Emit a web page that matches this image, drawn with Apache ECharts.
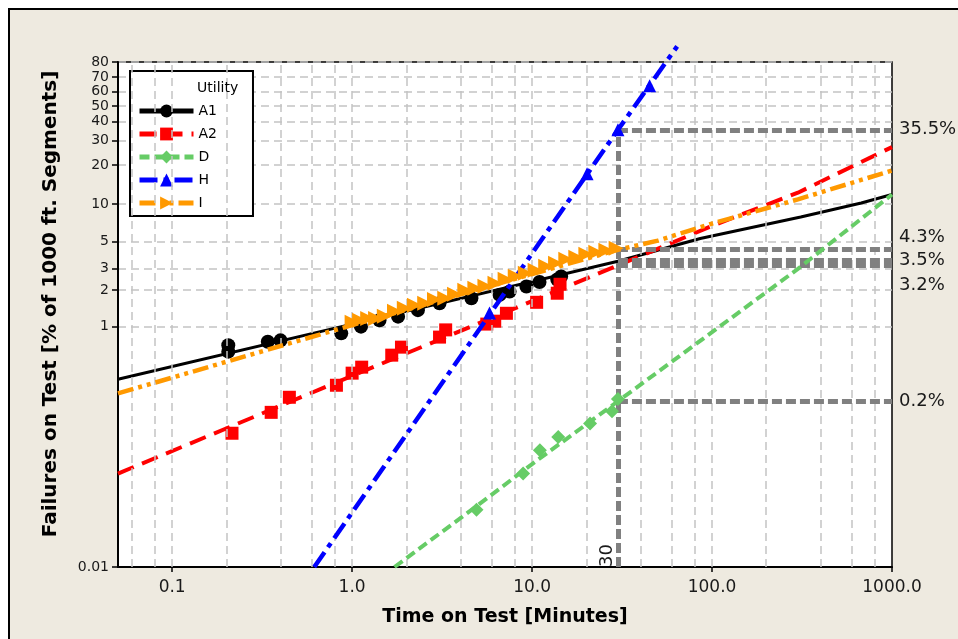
<!DOCTYPE html>
<html><head><meta charset="utf-8">
<script src="https://cdn.jsdelivr.net/npm/echarts@6/dist/echarts.min.js"></script>
<style>html,body{margin:0;padding:0;background:#fff}#c{width:958px;height:639px}</style>
</head><body><div id="c"></div>
<script>
// ---------- data ----------
const seriesNames = ['A1', 'A2', 'D', 'H', 'I'];
const xTickLabels = [0.1, 1, 10, 100, 1000];
const xGridValues = [0.06, 0.08, 0.1, 0.2, 0.4, 0.6, 0.8, 1, 2, 4, 6, 8, 10, 20, 40, 60, 80, 100, 200, 400, 600, 800];
const yTickPct = [0.01, 1, 2, 3, 5, 10, 20, 30, 40, 50, 60, 70, 80];

// fitted lines: [minutes, % failed]
const a1Line = [[0.05, 0.366], [1, 1.05], [30, 3.46], [86, 5.3], [311, 7.9], [675, 10.2], [1000, 11.9]];
const a2Line = [[0.05, 0.060], [1, 0.39], [30, 3.2], [100, 6.7], [300, 12.3], [1000, 27]];
const dLine = [[1.72, 0.01], [4.9, 0.032], [10, 0.072], [30, 0.24], [100, 0.9], [300, 3.0], [1000, 11.9]];
const hLine = [[0.616, 0.01], [30, 35.5], [64, 88.6]];
const iLine = [[0.05, 0.279], [1, 1.03], [30, 4.3], [50, 5.1], [100, 7.0], [300, 10.9], [1000, 18.2]];

// observed points: [minutes, % failed]
const a1Pts = [[0.205, 0.70], [0.205, 0.62], [0.34, 0.75], [0.40, 0.77], [0.87, 0.88], [1.12, 1.0], [1.42, 1.13], [1.80, 1.21], [2.32, 1.37], [3.06, 1.56], [4.6, 1.72], [6.6, 1.83], [7.5, 1.95], [9.3, 2.15], [11.0, 2.34], [13.8, 2.45], [14.5, 2.6]];
const a2Pts = [[0.215, 0.130], [0.355, 0.194], [0.448, 0.259], [0.818, 0.326], [1.0, 0.411], [1.13, 0.461], [1.66, 0.580], [1.88, 0.676], [3.06, 0.819], [3.31, 0.94], [5.6, 1.05], [6.2, 1.11], [7.2, 1.29], [10.6, 1.59], [13.8, 1.89], [14.3, 2.24]];
const dPts = [[4.91, 0.030], [8.92, 0.060], [11.05, 0.094], [13.98, 0.121], [21.0, 0.157], [27.8, 0.198], [30, 0.25]];
const hPts = [[5.8, 1.3], [20.2, 17.2], [30, 35.5], [45, 64]];
const iPts = [[1.00, 1.09], [1.10, 1.13], [1.22, 1.17], [1.35, 1.17], [1.51, 1.22], [1.72, 1.34], [1.95, 1.42], [2.22, 1.50], [2.53, 1.56], [2.87, 1.68], [3.27, 1.72], [3.71, 1.85], [4.23, 2.00], [4.81, 2.08], [5.47, 2.16], [6.22, 2.28], [7.08, 2.46], [8.06, 2.61], [9.17, 2.76], [10.4, 2.92], [11.9, 3.15], [13.5, 3.33], [15.4, 3.59], [17.5, 3.73], [19.9, 3.95], [22.6, 4.10], [25.7, 4.25], [29.3, 4.42]];

// reference read-offs at 30 minutes
const refMinutes = 30;
const refPct = [35.5, 4.3, 3.5, 3.2, 0.24];
const refLabels = ['35.5%', '4.3%', '3.5%', '3.2%', '0.2%'];

// ---------- Weibull probability scale ----------
const W = p => Math.log(-Math.log(1 - p / 100));
const tr = arr => arr.map(([t, p]) => [t, W(p)]);
const yTickW = yTickPct.map(W);
const yLabel = v => {
  for (let i = 0; i < yTickW.length; i++) if (Math.abs(yTickW[i] - v) < 1e-6) return String(yTickPct[i]);
  return '';
};

const FONT = 'DejaVu Sans';
const styles = {
  A1: { color: '#000000', width: 3, type: 'solid', symbol: 'circle', size: 14, rotate: 0 },
  A2: { color: '#ff0000', width: 4, type: [17, 9], symbol: 'rect', size: 13, rotate: 0 },
  D: { color: '#66cc66', width: 4, type: [10, 5], symbol: 'diamond', size: 14, rotate: 0 },
  H: { color: '#0000ff', width: 4.5, type: [18, 6, 5, 6], symbol: 'triangle', size: 13, rotate: 0 },
  I: { color: '#ff9900', width: 4.5, type: [16, 5, 4, 5, 4, 5], symbol: 'triangle', size: 15, rotate: -90 }
};
const lines = { A1: a1Line, A2: a2Line, D: dLine, H: hLine, I: iLine };
const pts = { A1: a1Pts, A2: a2Pts, D: dPts, H: hPts, I: iPts };

const series = [];
// vertical grid lines
series.push({
  type: 'scatter', data: [], silent: true, z: 1,
  markLine: {
    silent: true, animation: false, symbol: ['none', 'none'], label: { show: false },
    lineStyle: { color: '#c4c4c4', width: 1.5, type: [8, 5] },
    data: xGridValues.map(v => ({ xAxis: v }))
  }
});
// reference lines
const labelOffsets = [0, -12, 0, 20, 0];
const refData = refPct.map((p, i) => [
  { coord: [refMinutes, W(p)], label: { show: true, position: 'end', formatter: refLabels[i], offset: [0, labelOffsets[i]] } },
  { coord: [1000, W(p)] }
]);
refData.push([
  { coord: [refMinutes, W(yTickPct[0])], label: { show: true, position: 'insideStartTop', formatter: String(refMinutes), distance: [0, 2] } },
  { coord: [refMinutes, W(refPct[0])] }
]);
series.push({
  type: 'scatter', data: [], silent: true, z: 2, clip: false,
  markLine: {
    silent: true, animation: false, symbol: ['none', 'none'],
    lineStyle: { color: '#808080', width: 5, type: [10, 4] },
    label: { distance: 7, fontFamily: FONT, fontSize: 18, color: '#1a1a1a' },
    data: refData
  }
});
seriesNames.forEach((n, k) => {
  const s = styles[n];
  series.push({
    type: 'line', name: n, data: tr(lines[n]), showSymbol: false,
    symbol: s.symbol, symbolRotate: s.rotate, symbolSize: s.size,
    lineStyle: { color: s.color, width: s.width, type: s.type },
    itemStyle: { color: s.color }, z: 3 + k, clip: n !== 'H', animation: false
  });
  series.push({
    type: 'scatter', name: n, data: tr(pts[n]),
    symbol: s.symbol, symbolRotate: s.rotate, symbolSize: s.size,
    itemStyle: { color: s.color, opacity: 1 }, z: 3 + k, clip: false, animation: false
  });
});

const chart = echarts.init(document.getElementById('c'), null, { renderer: 'canvas' });
chart.setOption({
  backgroundColor: '#ffffff',
  animation: false,
  grid: { left: 118, right: 66, top: 62, bottom: 72, show: true, backgroundColor: '#ffffff', borderColor: '#000', borderWidth: 1.5, containLabel: false },
  graphic: [
    { type: 'rect', z: -100, shape: { x: 9, y: 9, width: 960, height: 650 }, style: { fill: '#eeeae0', stroke: '#000', lineWidth: 2 } },
    { type: 'text', z: 100, x: 197, y: 88, style: { text: 'Utility', font: '14px "DejaVu Sans"', fill: '#000', verticalAlign: 'middle' } },
    { type: 'text', z: 100, x: 51, y: 304, rotation: Math.PI / 2, style: { text: 'Failures on Test [% of 1000 ft. Segments]', font: 'bold 20px "DejaVu Sans"', fill: '#000', align: 'center', verticalAlign: 'middle' } }
  ],
  legend: {
    orient: 'vertical', left: 130, top: 71,
    padding: [33, 36, 6, 7], itemWidth: 54, itemHeight: 16, itemGap: 9,
    backgroundColor: '#ffffff', borderColor: '#000', borderWidth: 2, borderRadius: 0,
    textStyle: { fontFamily: FONT, fontSize: 14, color: '#000' },
    lineStyle: { width: 5 },
    data: seriesNames, selectedMode: false
  },
  xAxis: {
    type: 'log', logBase: 10, min: 0.05, max: 1000,
    axisLine: { show: true, onZero: false, lineStyle: { color: '#000', width: 2 } },
    axisTick: { show: true, customValues: xTickLabels, length: 5, lineStyle: { color: '#000', width: 1.5 } },
    axisLabel: { customValues: xTickLabels, formatter: v => Number(v).toFixed(1), fontFamily: FONT, fontSize: 17, color: '#1a1a1a', margin: 12 },
    splitLine: { show: false }, minorSplitLine: { show: false },
    name: 'Time on Test [Minutes]', nameLocation: 'middle', nameGap: 41,
    nameTextStyle: { fontFamily: FONT, fontWeight: 'bold', fontSize: 19, color: '#000' }
  },
  yAxis: {
    type: 'value', min: W(yTickPct[0]), max: W(yTickPct[yTickPct.length - 1]),
    axisLine: { show: true, onZero: false, lineStyle: { color: '#000', width: 2 } },
    axisTick: { show: true, customValues: yTickW, length: 6, lineStyle: { color: '#000', width: 1.5 } },
    axisLabel: { customValues: yTickW, formatter: yLabel, fontFamily: FONT, fontSize: 14, color: '#1a1a1a', margin: 9 },
    splitLine: { show: true, lineStyle: { color: '#c4c4c4', width: 1.5, type: [8, 5] } }
  },
  series: series
});
</script></body></html>
